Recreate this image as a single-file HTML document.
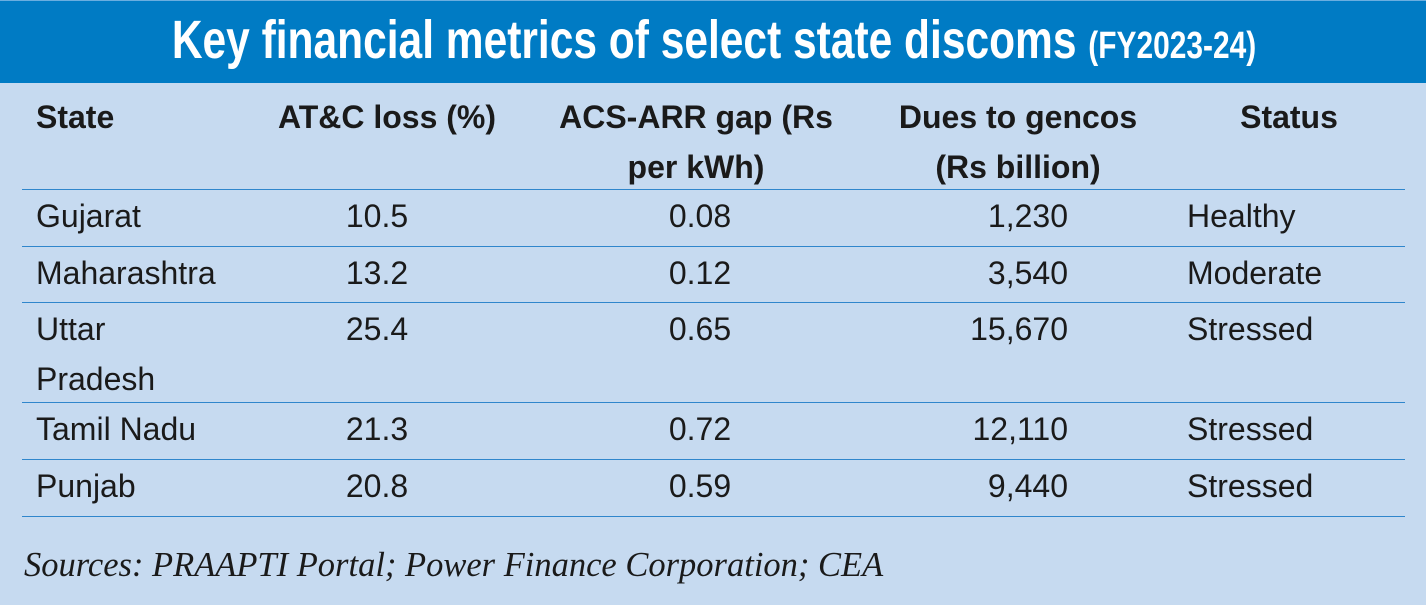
<!DOCTYPE html>
<html><head><meta charset="utf-8"><style>
body{margin:0;width:1426px;height:605px;background:#c6daf0;position:relative;overflow:hidden;font-family:"Liberation Sans",sans-serif;color:#1a1a1a}
.hdr{position:absolute;left:0;top:0;width:1426px;height:83px;background:#007bc4;border-top:1px solid #6aaee0;box-sizing:border-box}
.title{position:absolute;left:714px;top:9px;white-space:nowrap;color:#fff;font-weight:bold;font-size:54px;line-height:60px;transform:translateX(-50%) scaleX(0.787);transform-origin:center}
.title small{font-size:38px}
.t{position:absolute;font-size:32px;line-height:36px;white-space:nowrap}
.b{font-weight:bold}
.line{position:absolute;left:22px;width:1383px;height:0;border-top:1.5px solid #2f86cc}
.c{transform:translateX(-50%);text-align:center}
.r{transform:translateX(-100%)}
.src{position:absolute;left:24px;top:546px;font-family:"Liberation Serif",serif;font-style:italic;font-size:34.5px;white-space:nowrap}
</style></head><body>
<div class="hdr"><div class="title">Key financial metrics of select state discoms <small>(FY2023-24)</small></div></div>

<div class="t b" style="left:36px;top:99px">State</div>
<div class="t b c" style="left:387px;top:99px">AT&amp;C loss (%)</div>
<div class="t b c" style="left:696px;top:92px;line-height:50px">ACS-ARR gap (Rs<br>per kWh)</div>
<div class="t b c" style="left:1018px;top:92px;line-height:50px">Dues to gencos<br>(Rs billion)</div>
<div class="t b c" style="left:1289px;top:99px">Status</div>

<div class="line" style="top:189px"></div>
<div class="line" style="top:246px"></div>
<div class="line" style="top:302px"></div>
<div class="line" style="top:402px"></div>
<div class="line" style="top:459px"></div>
<div class="line" style="top:516px"></div>

<div class="t" style="left:36px;top:198px">Gujarat</div>
<div class="t c" style="left:377px;top:198px">10.5</div>
<div class="t c" style="left:700px;top:198px">0.08</div>
<div class="t r" style="left:1068px;top:198px">1,230</div>
<div class="t" style="left:1187px;top:198px">Healthy</div>

<div class="t" style="left:36px;top:255px">Maharashtra</div>
<div class="t c" style="left:377px;top:255px">13.2</div>
<div class="t c" style="left:700px;top:255px">0.12</div>
<div class="t r" style="left:1068px;top:255px">3,540</div>
<div class="t" style="left:1187px;top:255px">Moderate</div>

<div class="t" style="left:36px;top:304px;line-height:50px">Uttar<br>Pradesh</div>
<div class="t c" style="left:377px;top:311px">25.4</div>
<div class="t c" style="left:700px;top:311px">0.65</div>
<div class="t r" style="left:1068px;top:311px">15,670</div>
<div class="t" style="left:1187px;top:311px">Stressed</div>

<div class="t" style="left:36px;top:411px">Tamil Nadu</div>
<div class="t c" style="left:377px;top:411px">21.3</div>
<div class="t c" style="left:700px;top:411px">0.72</div>
<div class="t r" style="left:1068px;top:411px">12,110</div>
<div class="t" style="left:1187px;top:411px">Stressed</div>

<div class="t" style="left:36px;top:468px">Punjab</div>
<div class="t c" style="left:377px;top:468px">20.8</div>
<div class="t c" style="left:700px;top:468px">0.59</div>
<div class="t r" style="left:1068px;top:468px">9,440</div>
<div class="t" style="left:1187px;top:468px">Stressed</div>

<div class="src">Sources: PRAAPTI Portal; Power Finance Corporation; CEA</div>
</body></html>
